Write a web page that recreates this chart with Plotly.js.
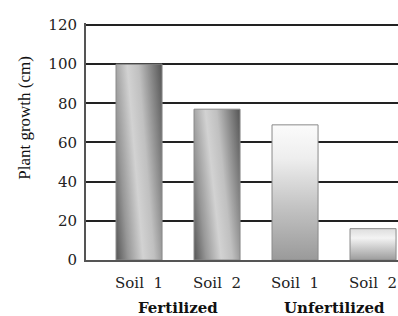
<!DOCTYPE html>
<html>
<head>
<meta charset="utf-8">
<script src="https://cdn.plot.ly/plotly-3.0.1.min.js"></script>
<style>
  html, body { margin: 0; padding: 0; background: #fff; }
  #chart { width: 398px; height: 316px; }
</style>
</head>
<body>
<div id="chart"></div>
<script>
// ---- data ----
const soilLabels = ['Soil  1', 'Soil  2', 'Soil  1', 'Soil  2'];
const groupNames = ['Fertilized', 'Unfertilized'];
const growth = [100, 77, 69, 16];
const yTicks = [0, 20, 40, 60, 80, 100, 120];

const xIdx = soilLabels.map((_, i) => i);
const groupCenters = [0.5, 2.5];

const trace = {
  type: 'bar',
  x: xIdx,
  y: growth,
  width: 0.59,
  marker: { color: '#bbbbbb', line: { color: '#8a8a8a', width: 1 } },
  hoverinfo: 'skip'
};

const annotations = groupNames.map((g, i) => ({
  text: '<b>' + g + '</b>',
  x: groupCenters[i], xref: 'x',
  y: 0, yref: 'paper', yanchor: 'middle', yshift: -48,
  showarrow: false,
  font: { family: 'DejaVu Serif', size: 15, color: '#111' }
}));
annotations.push({
  text: 'Plant growth (cm)',
  textangle: -90,
  x: 0, xref: 'paper', xanchor: 'center', xshift: -61,
  y: 0.6, yref: 'paper', yanchor: 'middle',
  showarrow: false,
  font: { family: 'Liberation Serif', size: 17, color: '#111' }
});

const layout = {
  width: 398, height: 316,
  margin: { l: 86, r: 0, t: 23, b: 56 },
  paper_bgcolor: '#fff', plot_bgcolor: '#fff',
  showlegend: false,
  xaxis: {
    range: [-0.68, 3.32],
    tickvals: xIdx, ticktext: soilLabels,
    showgrid: false, zeroline: false,
    showline: true, linecolor: '#555', linewidth: 2,
    ticks: 'outside', ticklen: 8, tickcolor: 'rgba(0,0,0,0)',
    tickfont: { family: 'DejaVu Serif', size: 15, color: '#222' }
  },
  yaxis: {
    range: [0, 121], tickvals: yTicks, ticktext: yTicks.map(String),
    showgrid: true, gridcolor: '#222', gridwidth: 2,
    zeroline: false,
    showline: true, linecolor: '#555', linewidth: 2,
    ticks: 'outside', ticklen: 4, tickcolor: 'rgba(0,0,0,0)',
    tickfont: { family: 'DejaVu Serif', size: 15, color: '#222' }
  },
  annotations: annotations
};

const gradients = [
  { id: 'gA', x1: 0, y1: 1, x2: 1.2, y2: 0.58,
    stops: [[0, '#555555'], [0.2, '#979797'], [0.44, '#d2d2d2'], [0.62, '#c0c0c0'], [1, '#555555']] },
  { id: 'gB', x1: 0, y1: 1, x2: 1.2, y2: 0.58,
    stops: [[0, '#555555'], [0.2, '#979797'], [0.44, '#d2d2d2'], [0.62, '#c0c0c0'], [1, '#555555']] },
  { id: 'gC', x1: 0, y1: 0, x2: 0, y2: 1,
    stops: [[0, '#fbfbfb'], [0.25, '#eeeeee'], [0.6, '#c4c4c4'], [1, '#9a9a9a']] },
  { id: 'gD', x1: 0, y1: 0, x2: 0, y2: 1,
    stops: [[0, '#dddddd'], [0.3, '#f3f3f3'], [1, '#9c9c9c']] }
];

Plotly.newPlot('chart', [trace], layout, { displayModeBar: false, staticPlot: true }).then(gd => {
  const NS = 'http://www.w3.org/2000/svg';
  const svg = gd.querySelector('svg.main-svg');
  let defs = svg.querySelector('defs');
  if (!defs) { defs = document.createElementNS(NS, 'defs'); svg.insertBefore(defs, svg.firstChild); }
  gradients.forEach(g => {
    const lg = document.createElementNS(NS, 'linearGradient');
    lg.setAttribute('id', g.id);
    lg.setAttribute('x1', g.x1); lg.setAttribute('y1', g.y1);
    lg.setAttribute('x2', g.x2); lg.setAttribute('y2', g.y2);
    g.stops.forEach(s => {
      const st = document.createElementNS(NS, 'stop');
      st.setAttribute('offset', s[0]);
      st.setAttribute('stop-color', s[1]);
      lg.appendChild(st);
    });
    defs.appendChild(lg);
  });
  const paths = gd.querySelectorAll('.trace.bars .point path');
  paths.forEach((p, i) => { p.style.fill = 'url(#' + gradients[i % gradients.length].id + ')'; });
});
</script>
</body>
</html>
